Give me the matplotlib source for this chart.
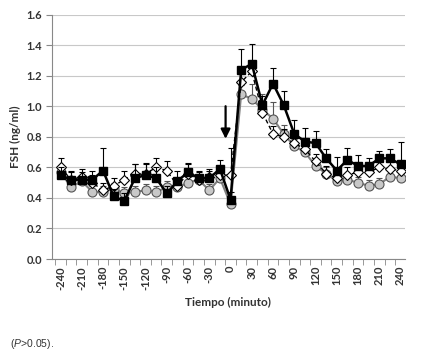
import matplotlib.pyplot as plt
import numpy as np

plt.rcParams['font.family'] = ['Lato', 'DejaVu Sans']
plt.rcParams['mathtext.fontset'] = 'custom'
plt.rcParams['mathtext.it'] = 'Liberation Sans:italic'
plt.rcParams['mathtext.rm'] = 'Liberation Sans'

# time in minutes, every 15 min
minutes = list(range(-240, 241, 15))

black = [0.55, 0.52, 0.52, 0.52, 0.58, 0.41, 0.38, 0.53, 0.55, 0.53, 0.43, 0.51, 0.57,
         0.53, 0.53, 0.59, 0.39, 1.24, 1.28, 1.01, 1.15, 1.01, 0.82, 0.77, 0.76, 0.66,
         0.58, 0.65, 0.61, 0.61, 0.66, 0.66, 0.62]
black_err = [0.05, 0.06, 0.05, 0.06, 0.15, 0.05, 0.05, 0.09, 0.08, 0.07, 0.05, 0.07, 0.06,
             0.05, 0.05, 0.06, 0.05, 0.14, 0.13, 0.06, 0.10, 0.09, 0.09, 0.09, 0.08, 0.06,
             0.09, 0.08, 0.07, 0.05, 0.05, 0.06, 0.15]

gray = [0.57, 0.47, 0.51, 0.44, 0.44, 0.46, 0.43, 0.44, 0.45, 0.44, 0.47, 0.47, 0.50,
        0.52, 0.45, 0.53, 0.36, 1.08, 1.05, 0.98, 0.92, 0.82, 0.74, 0.70, 0.61, 0.56,
        0.51, 0.52, 0.50, 0.48, 0.49, 0.54, 0.53]
gray_err = [0.04, 0.04, 0.04, 0.04, 0.04, 0.04, 0.04, 0.04, 0.04, 0.04, 0.04, 0.04, 0.04,
            0.04, 0.04, 0.04, 0.04, 0.06, 0.10, 0.10, 0.11, 0.06, 0.05, 0.05, 0.04, 0.04,
            0.04, 0.04, 0.04, 0.04, 0.04, 0.04, 0.04]

white = [0.60, 0.52, 0.54, 0.50, 0.45, 0.48, 0.52, 0.56, 0.56, 0.60, 0.58, 0.48, 0.56,
         0.52, 0.54, 0.55, 0.55, 1.16, 1.23, 0.96, 0.82, 0.80, 0.76, 0.72, 0.64, 0.56,
         0.53, 0.55, 0.57, 0.57, 0.60, 0.59, 0.58]
white_err = [0.06, 0.05, 0.05, 0.05, 0.05, 0.05, 0.06, 0.06, 0.06, 0.06, 0.06, 0.05, 0.06,
             0.05, 0.05, 0.05, 0.18, 0.06, 0.06, 0.05, 0.05, 0.05, 0.05, 0.05, 0.05, 0.05,
             0.05, 0.05, 0.05, 0.05, 0.05, 0.05, 0.05]

fig = plt.figure(figsize=(4.23, 3.63), dpi=100)
ax = fig.add_axes([0.123, 0.2865, 0.834, 0.6722])

zeros = np.zeros(len(minutes))
ax.errorbar(minutes, gray, yerr=[zeros, gray_err], fmt='none', ecolor='#555555',
            elinewidth=0.8, capsize=2, capthick=0.8, zorder=2)
ax.plot(minutes, gray, color='#7f7f7f', lw=1.5, marker='o', ms=6.5,
        mfc='#c8c8c8', mec='#555555', mew=0.8, zorder=3)
ax.errorbar(minutes, white, yerr=[zeros, white_err], fmt='none', ecolor='black',
            elinewidth=0.8, capsize=2, capthick=0.8, zorder=4)
ax.plot(minutes, white, color='black', lw=1.0, ls=(0, (3, 2)), marker='D', ms=5,
        mfc='white', mec='black', mew=0.8, zorder=5)
ax.errorbar(minutes, black, yerr=[zeros, black_err], fmt='none', ecolor='black',
            elinewidth=0.8, capsize=2, capthick=0.8, zorder=6)
ax.plot(minutes, black, color='black', lw=1.8, marker='s', ms=6,
        mfc='black', mec='black', zorder=7)

ax.annotate('', xy=(-7, 0.77), xytext=(-7, 1.02),
            arrowprops=dict(arrowstyle='-|>', color='black', lw=1.6, mutation_scale=14))

ax.set_xlim(-252, 246)
ax.set_ylim(0, 1.6)
ax.set_yticks(np.arange(0, 1.61, 0.2))
ax.set_yticklabels(['%.1f' % v for v in np.arange(0, 1.61, 0.2)],
                   fontsize=8, fontweight='bold', color='#333333')
ax.set_xticks(range(-240, 241, 30))
ax.set_xticklabels([str(v) for v in range(-240, 241, 30)], rotation=90,
                   fontsize=8, fontweight='bold', color='#333333')
ax.set_xticks(np.arange(-247.5, 246, 15), minor=True)
ax.tick_params(axis='x', which='major', length=0, pad=5)
ax.tick_params(axis='x', which='minor', length=4, color='#888888')
ax.tick_params(axis='y', length=4, color='#888888', pad=3)
ax.grid(axis='y', color='#c8c8c8', lw=0.8)
ax.set_axisbelow(True)
for s in ['top', 'right']:
    ax.spines[s].set_visible(False)
for s in ['left', 'bottom']:
    ax.spines[s].set_color('#888888')
    ax.spines[s].set_linewidth(0.8)

ax.set_ylabel('FSH (ng/ml)', fontsize=8.5, fontweight='bold', color='#333333', labelpad=4)
ax.set_xlabel('Tiempo (minuto)', fontsize=8.5, fontweight='bold', color='#333333', labelpad=5)

fig.text(0.024, 0.044, r'($\mathit{P}$>0.05).', fontsize=7.5, color='#333333',
         family='Liberation Sans')

fig.savefig('out.png', dpi=100)
